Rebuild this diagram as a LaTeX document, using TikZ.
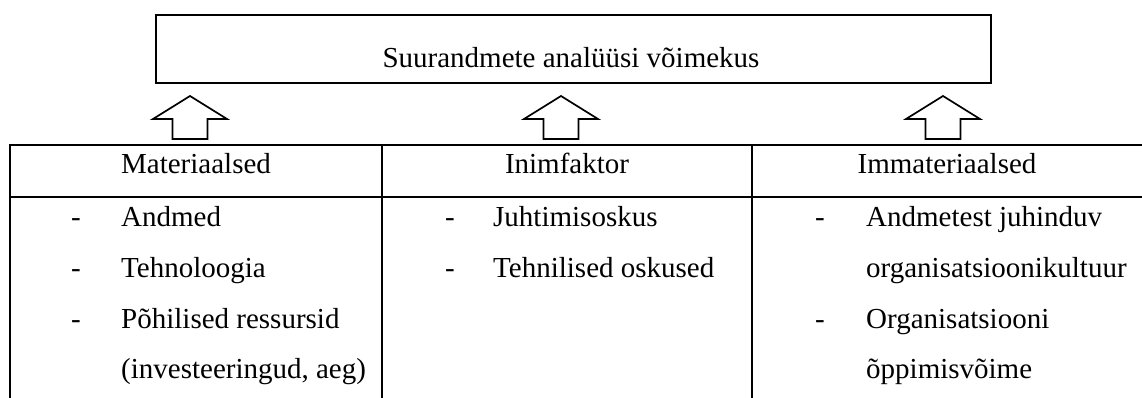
\documentclass[tikz,border=0pt]{standalone}
\usepackage{fontspec}
\setmainfont{Liberation Serif}
\begin{document}
\begin{tikzpicture}[x=1pt,y=-1pt,
  boxline/.style={draw=black,line width=2.2pt},
  gridline/.style={draw=black,line width=2.4pt},
  arrowline/.style={draw=black,line width=1.7pt,line join=miter},
  txtfont/.style={font=\fontsize{29}{34}\selectfont},
  txt/.style={inner sep=0pt,anchor=base,txtfont},
  itemtxt/.style={inner sep=0pt,anchor=base west,txtfont},
  dashtxt/.style={inner sep=0pt,anchor=base,txtfont},
  uparrow/.pic={\draw[arrowline] (0,0) -- (37,23) -- (17.5,23) -- (17.5,43) -- (-17.5,43) -- (-17.5,23) -- (-37,23) -- cycle;}
]
\useasboundingbox (0,0) rectangle (1142,398);

% top box
\node[boxline,minimum width=835pt,minimum height=68pt,inner sep=0pt] (cap) at (573.5,49) {};
\node[txt] (captxt) at (571,68) {Suurandmete analüüsi võimekus};

% arrows
\pic at (190,96) {uparrow};
\pic at (561,96) {uparrow};
\pic at (943,96) {uparrow};

% table grid
\coordinate (tl) at (10,145);
\coordinate (tr) at (1143,145);
\coordinate (ml) at (10,197);
\coordinate (mr) at (1143,197);
\coordinate (bl) at (10,399);
\coordinate (c1t) at (382,145);
\coordinate (c1b) at (382,399);
\coordinate (c2t) at (752,145);
\coordinate (c2b) at (752,399);
\draw[gridline] (tr) -- (tl) -- (bl);
\draw[gridline] (ml) -- (mr);
\draw[gridline] (c1t) -- (c1b);
\draw[gridline] (c2t) -- (c2b);

% headers
\node[txt] (h1) at (196,174) {Materiaalsed};
\node[txt] (h2) at (567,174) {Inimfaktor};
\node[txt] (h3) at (947,174) {Immateriaalsed};

% column 1
\node[dashtxt] (d11) at (76,226) {-};
\node[itemtxt] (i11) at (121,226) {Andmed};
\node[dashtxt] (d12) at (76,277) {-};
\node[itemtxt] (i12) at (121,277) {Tehnoloogia};
\node[dashtxt] (d13) at (76,328) {-};
\node[itemtxt] (i13) at (121,328) {Põhilised ressursid};
\node[itemtxt] (i14) at (121,378) {(investeeringud, aeg)};

% column 2
\node[dashtxt] (d21) at (450,226) {-};
\node[itemtxt] (i21) at (493,226) {Juhtimisoskus};
\node[dashtxt] (d22) at (450,277) {-};
\node[itemtxt] (i22) at (493,277) {Tehnilised oskused};

% column 3
\node[dashtxt] (d31) at (820,226) {-};
\node[itemtxt] (i31) at (866,226) {Andmetest juhinduv};
\node[itemtxt] (i32) at (866,277) {organisatsioonikultuur};
\node[dashtxt] (d33) at (820,328) {-};
\node[itemtxt] (i33) at (866,328) {Organisatsiooni};
\node[itemtxt] (i34) at (866,378) {õppimisvõime};
\end{tikzpicture}
\end{document}
